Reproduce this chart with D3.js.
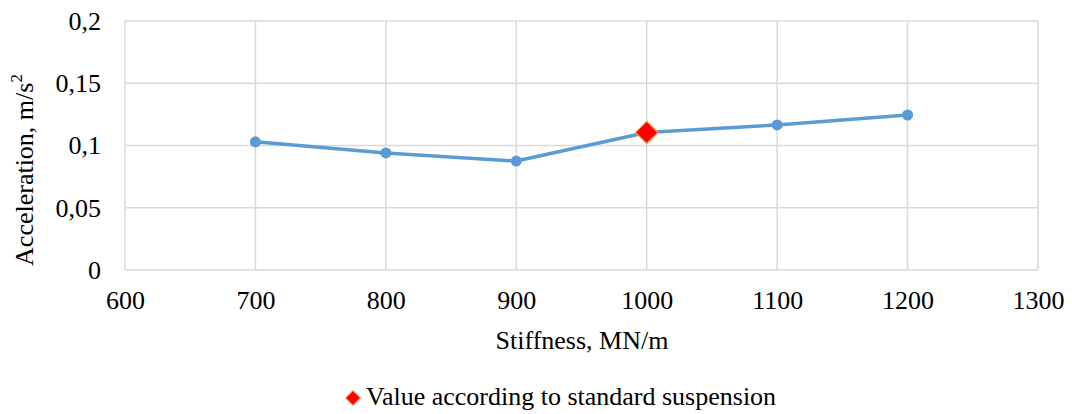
<!DOCTYPE html>
<html><head><meta charset="utf-8">
<script src="https://cdn.jsdelivr.net/npm/d3@7"></script>
<style>body{margin:0;background:#fff}svg{display:block}text{font-family:"Liberation Serif","Times New Roman",serif;fill:#000}</style>
</head><body>
<svg id="c" width="1072" height="414"></svg>
<script>
const stiffness = [700, 800, 900, 1000, 1100, 1200];
const acceleration = [0.103, 0.094, 0.0875, 0.1105, 0.1165, 0.1245];
const standardStiffness = [1000];
const standardAcceleration = [0.1105];
const xTicks = [600, 700, 800, 900, 1000, 1100, 1200, 1300];
const yTicks = [0, 0.05, 0.1, 0.15, 0.2];

const svg = d3.select("#c");
const L = 125, R = 1038, T = 21, B = 270;
const x = d3.scaleLinear().domain([600, 1300]).range([L, R]);
const y = d3.scaleLinear().domain([0, 0.2]).range([B, T]);
const fmt = d => String(d).replace(".", ",");
const grid = "#d9d9d9";

// gridlines
svg.append("g").selectAll("line").data(xTicks).join("line")
  .attr("x1", d => x(d)).attr("x2", d => x(d)).attr("y1", T).attr("y2", B)
  .attr("stroke", grid).attr("stroke-width", 1.5);
svg.append("g").selectAll("line").data(yTicks).join("line")
  .attr("x1", L).attr("x2", R).attr("y1", d => y(d)).attr("y2", d => y(d))
  .attr("stroke", grid).attr("stroke-width", 1.5);

// axes labels via d3 axes (no lines)
const xa = svg.append("g").attr("transform", `translate(0,${B})`)
  .call(d3.axisBottom(x).tickValues(xTicks).tickSize(0).tickPadding(0).tickFormat(d => d));
xa.select(".domain").remove();
xa.selectAll("text").attr("font-size", 26).attr("font-family", "Liberation Serif")
  .attr("fill", "#000").attr("dy", null).attr("y", 39);

const ya = svg.append("g").attr("transform", `translate(${L},0)`)
  .call(d3.axisLeft(y).tickValues(yTicks).tickSize(0).tickPadding(0).tickFormat(fmt));
ya.select(".domain").remove();
ya.selectAll("text").attr("font-size", 26).attr("font-family", "Liberation Serif")
  .attr("fill", "#000").attr("x", -24).attr("dy", "0.32em");

// line
const data = stiffness.map((s, i) => ({s, a: acceleration[i]}));
svg.append("path").datum(data)
  .attr("d", d3.line().x(d => x(d.s)).y(d => y(d.a)))
  .attr("fill", "none").attr("stroke", "#5b9bd5").attr("stroke-width", 3.5)
  .attr("stroke-linejoin", "round");
svg.append("g").selectAll("circle").data(data).join("circle")
  .attr("cx", d => x(d.s)).attr("cy", d => y(d.a)).attr("r", 5.5).attr("fill", "#5b9bd5");

// standard diamond
const std = standardStiffness.map((s, i) => ({s, a: standardAcceleration[i]}));
svg.append("g").selectAll("path").data(std).join("path")
  .attr("transform", d => `translate(${x(d.s)},${y(d.a)}) rotate(45)`)
  .attr("d", d3.symbol().type(d3.symbolSquare).size(250))
  .attr("fill", "#ff0000").attr("stroke", "#f4a040").attr("stroke-width", 1.2);

// titles
svg.append("text").attr("x", (L + R) / 2 + 0.5).attr("y", 349).attr("text-anchor", "middle")
  .attr("font-size", 26).text("Stiffness, MN/m");
const yt = svg.append("text").attr("transform", "translate(33,170) rotate(-90)")
  .attr("text-anchor", "middle").attr("font-size", 26);
yt.append("tspan").text("Acceleration, m/s");
yt.append("tspan").attr("font-size", 17).attr("dy", -11).text("2");

// legend
svg.append("path").attr("transform", "translate(353,398) rotate(45)")
  .attr("d", d3.symbol().type(d3.symbolSquare).size(110))
  .attr("fill", "#ff0000").attr("stroke", "#f4a040").attr("stroke-width", 1);
svg.append("text").attr("x", 366).attr("y", 405).attr("font-size", 26)
  .text("Value according to standard suspension");
</script>
</body></html>
